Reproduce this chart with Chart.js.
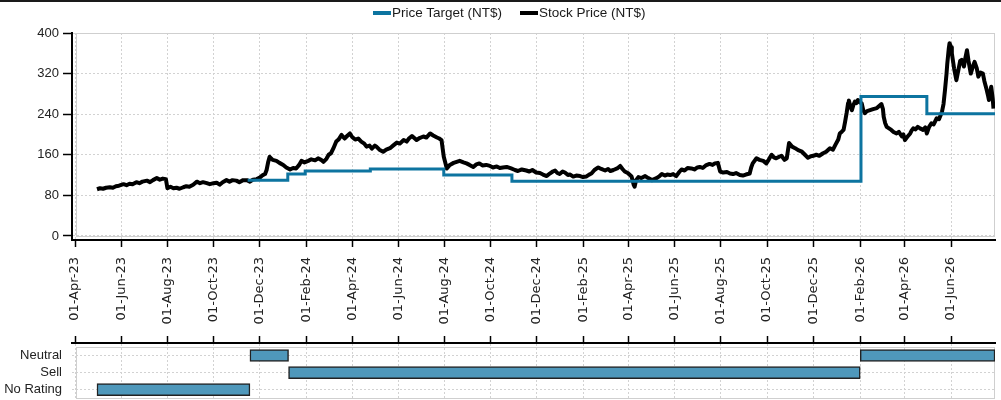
<!DOCTYPE html>
<html>
<head>
<meta charset="utf-8">
<script src="https://cdn.jsdelivr.net/npm/chart.js@4.4.1/dist/chart.umd.min.js"></script>
<style>
html,body{margin:0;padding:0;background:#fff;}
#wrap{position:relative;width:1001px;height:400px;overflow:hidden;background:#fff;}
#topline{position:absolute;left:0;top:0;width:1001px;height:2px;background:#1a1a1a;z-index:3;}
#legend{position:absolute;left:373px;top:5px;font-family:"Liberation Sans",Arial,sans-serif;font-size:13.5px;line-height:15px;color:#1a1a1a;display:flex;white-space:nowrap;z-index:3;}
#legend .item{display:inline-flex;align-items:center;margin-right:18px;}
#legend .sw{display:inline-block;width:18px;height:4px;margin-right:1px;}
#c1{position:absolute;left:0;top:0;}
#c2{position:absolute;left:0;top:335px;}
</style>
</head>
<body>
<div id="wrap">
  <div id="topline"></div>
  <div id="legend">
    <span class="item"><span class="sw" style="background:#0d74a0"></span>Price Target (NT$)</span>
    <span class="item"><span class="sw" style="background:#000"></span>Stock Price (NT$)</span>
  </div>
  <canvas id="c1" width="1001" height="335"></canvas>
  <canvas id="c2" width="1001" height="65"></canvas>
</div>
<script>
// ---------- DATA ----------
const tickDates = ['2023-04-01','2023-06-01','2023-08-01','2023-10-01','2023-12-01',
  '2024-02-01','2024-04-01','2024-06-01','2024-08-01','2024-10-01','2024-12-01',
  '2025-02-01','2025-04-01','2025-06-01','2025-08-01','2025-10-01','2025-12-01',
  '2026-02-01','2026-04-01','2026-06-01'];
const yTicks = [0, 80, 160, 240, 320, 400];

const stockDates = [
 '2023-04-30','2023-05-04','2023-05-08','2023-05-12','2023-05-17','2023-05-21','2023-05-25','2023-05-29','2023-06-04','2023-06-08',
 '2023-06-12','2023-06-16','2023-06-21','2023-06-25','2023-06-29','2023-07-05','2023-07-09','2023-07-13','2023-07-18','2023-07-22',
 '2023-07-26','2023-07-30','2023-08-01','2023-08-05','2023-08-09','2023-08-13','2023-08-17','2023-08-22','2023-08-26','2023-08-30',
 '2023-09-04','2023-09-09','2023-09-13','2023-09-17','2023-09-22','2023-09-26','2023-10-01','2023-10-05','2023-10-09','2023-10-13',
 '2023-10-18','2023-10-22','2023-10-26','2023-10-31','2023-11-04','2023-11-09','2023-11-14','2023-11-18','2023-11-22','2023-11-27',
 '2023-12-01','2023-12-05','2023-12-08','2023-12-10','2023-12-12','2023-12-14','2023-12-18','2023-12-23','2023-12-27','2024-01-01',
 '2024-01-05','2024-01-10','2024-01-14','2024-01-18','2024-01-22','2024-01-25','2024-01-29','2024-02-03','2024-02-07','2024-02-12',
 '2024-02-16','2024-02-20','2024-02-23','2024-02-27','2024-03-01','2024-03-04','2024-03-07','2024-03-11','2024-03-14','2024-03-18',
 '2024-03-22','2024-03-26','2024-03-29','2024-04-01','2024-04-05','2024-04-09','2024-04-13','2024-04-17','2024-04-20','2024-04-24',
 '2024-04-27','2024-05-01','2024-05-03','2024-05-07','2024-05-12','2024-05-16','2024-05-21','2024-05-25','2024-05-30','2024-06-03',
 '2024-06-08','2024-06-12','2024-06-15','2024-06-19','2024-06-22','2024-06-25','2024-06-29','2024-07-04','2024-07-08','2024-07-13',
 '2024-07-17','2024-07-22','2024-07-25','2024-07-28','2024-07-31','2024-08-04','2024-08-08','2024-08-13','2024-08-17','2024-08-21',
 '2024-08-26','2024-08-30','2024-09-03','2024-09-08','2024-09-12','2024-09-16','2024-09-20','2024-09-25','2024-09-30','2024-10-04',
 '2024-10-09','2024-10-13','2024-10-17','2024-10-22','2024-10-28','2024-11-02','2024-11-06','2024-11-11','2024-11-17','2024-11-21',
 '2024-11-25','2024-11-30','2024-12-05','2024-12-09','2024-12-14','2024-12-18','2024-12-22','2024-12-25','2024-12-28','2024-12-31',
 '2025-01-04','2025-01-07','2025-01-11','2025-01-14','2025-01-18','2025-01-22','2025-01-27','2025-01-31','2025-02-04','2025-02-08',
 '2025-02-11','2025-02-15','2025-02-20','2025-02-24','2025-03-01','2025-03-05','2025-03-08','2025-03-12','2025-03-17','2025-03-21',
 '2025-03-24','2025-03-27','2025-03-31','2025-04-05','2025-04-08','2025-04-09','2025-04-11','2025-04-14','2025-04-18','2025-04-23',
 '2025-04-27','2025-05-02','2025-05-05','2025-05-08','2025-05-12','2025-05-15','2025-05-19','2025-05-22','2025-05-26','2025-05-30',
 '2025-06-03','2025-06-07','2025-06-10','2025-06-14','2025-06-18','2025-06-23','2025-06-27','2025-07-01','2025-07-04','2025-07-08',
 '2025-07-12','2025-07-17','2025-07-21','2025-07-24','2025-07-28','2025-07-31','2025-08-04','2025-08-09','2025-08-13','2025-08-17',
 '2025-08-21','2025-08-26','2025-08-30','2025-09-03','2025-09-08','2025-09-10','2025-09-12','2025-09-17','2025-09-21','2025-09-26',
 '2025-09-30','2025-10-03','2025-10-07','2025-10-10','2025-10-13','2025-10-17','2025-10-20','2025-10-24','2025-10-27','2025-10-30',
 '2025-11-03','2025-11-07','2025-11-11','2025-11-16','2025-11-20','2025-11-24','2025-11-28','2025-12-01','2025-12-05','2025-12-09',
 '2025-12-14','2025-12-18','2025-12-23','2025-12-27','2025-12-30','2026-01-03','2026-01-05','2026-01-08','2026-01-10','2026-01-12',
 '2026-01-14','2026-01-16','2026-01-17','2026-01-19','2026-01-21','2026-01-23','2026-01-25','2026-01-27','2026-01-29','2026-01-31',
 '2026-02-03','2026-02-05','2026-02-07','2026-02-10','2026-02-14','2026-02-18','2026-02-23','2026-02-26','2026-03-01','2026-03-03',
 '2026-03-04','2026-03-06','2026-03-08','2026-03-11','2026-03-14','2026-03-17','2026-03-21','2026-03-24','2026-03-28','2026-03-30',
 '2026-04-01','2026-04-04','2026-04-08','2026-04-10','2026-04-12','2026-04-15','2026-04-18','2026-04-21','2026-04-25','2026-04-28',
 '2026-04-30','2026-05-03','2026-05-06','2026-05-09','2026-05-13','2026-05-16','2026-05-20','2026-05-22','2026-05-24','2026-05-26',
 '2026-05-27','2026-05-29','2026-05-30','2026-06-01','2026-06-02','2026-06-05','2026-06-08','2026-06-11','2026-06-13','2026-06-15',
 '2026-06-18','2026-06-20','2026-06-22','2026-06-24','2026-06-27','2026-06-30','2026-07-02','2026-07-05','2026-07-07','2026-07-10',
 '2026-07-13','2026-07-15','2026-07-18','2026-07-20','2026-07-21','2026-07-23','2026-07-24','2026-07-26','2026-07-27'];
const stockPrices = [
  92, 94, 93, 95, 96, 95, 98, 99,102,100,
 103,102,106,104,107,109,106,110,114,111,
 113,112, 94, 97, 94, 95, 93, 96, 98, 97,
 101,107,104,106,104,102,104,105,101,106,
 110,107,110,109,106,110,110,107,111,112,
 115,120,122,130,145,156,150,148,144,140,
 135,131,134,133,140,148,145,148,151,149,
 153,150,146,152,160,163,172,186,190,199,
 192,198,202,195,190,192,186,182,176,178,
 172,178,176,170,166,170,173,178,184,182,
 189,186,192,197,193,189,193,196,194,202,
 198,194,192,189,156,133,140,144,146,148,
 145,143,140,136,141,143,139,140,138,135,
 137,134,135,136,133,130,128,131,129,127,
 130,125,124,121,118,123,127,129,124,122,
 127,125,120,121,117,119,118,116,117,121,
 123,130,135,132,129,132,128,130,133,138,
 132,127,124,117,100, 97,110,116,114,118,
 114,110,112,114,118,122,119,121,120,122,
 118,126,131,129,134,133,131,135,136,134,
 139,142,140,143,144,127,125,126,123,122,
 124,120,119,121,123,135,143,153,150,148,
 143,150,160,155,153,156,158,150,153,183,
 176,173,169,166,160,154,157,158,160,158,
 163,166,173,170,179,190,202,206,209,225,
 242,262,267,255,248,258,265,262,268,264,
 261,248,242,246,248,250,252,256,260,250,
 235,222,215,212,209,205,202,205,196,200,
 189,195,202,208,212,210,215,212,209,214,
 202,215,222,220,232,230,245,260,288,320,
 340,370,380,372,360,330,307,330,345,347,
 334,352,366,345,320,335,343,330,314,322,
 320,305,288,275,268,285,294,270,251];

const targetDates  = ['2023-11-15','2024-01-07','2024-01-30','2024-04-25','2024-07-31','2024-10-29','2026-02-02','2026-04-30','2026-07-29'];
const targetValues = [110, 122, 128, 132, 120, 108, 275, 241, 241];

const ratingLevels = ['No Rating', 'Sell', 'Neutral'];
const ratingNames  = ['No Rating', 'Neutral', 'Sell', 'Neutral'];
const ratingStarts = ['2023-04-30', '2023-11-18', '2024-01-08', '2026-02-01'];
const ratingEnds   = ['2023-11-18', '2024-01-08', '2026-02-01', '2026-07-29'];

// ---------- HELPERS ----------
const toMs = s => { const [y, m, d] = s.split('-').map(Number); return Date.UTC(y, m - 1, d); };
const MON = ['Jan','Feb','Mar','Apr','May','Jun','Jul','Aug','Sep','Oct','Nov','Dec'];
const fmtDate = ms => { const d = new Date(ms); return String(d.getUTCDate()).padStart(2,'0') + '-' + MON[d.getUTCMonth()] + '-' + String(d.getUTCFullYear()).slice(2); };
const xMin = toMs('2023-03-28'), xMax = toMs('2026-07-29');
const GRID = '#d2d2d2';
const nStock = Math.min(stockDates.length, stockPrices.length);

function boxPlugin(rectFn) {
  return {
    id: 'plotBox',
    beforeDatasetsDraw(chart) {
      const r = rectFn(chart);
      const ctx = chart.ctx;
      ctx.save();
      ctx.strokeStyle = '#cfcfcf';
      ctx.lineWidth = 1;
      ctx.setLineDash([]);
      ctx.strokeRect(Math.round(r.l) + 0.5, Math.round(r.t) + 0.5, Math.round(r.r - r.l) - 1, Math.round(r.b - r.t));
      ctx.restore();
    }
  };
}

Chart.defaults.font.family = '"Liberation Sans", Arial, sans-serif';
Chart.defaults.color = '#222';

// ---------- TOP CHART ----------
new Chart(document.getElementById('c1'), {
  type: 'line',
  data: {
    datasets: [
      {
        label: 'Price Target (NT$)',
        data: targetDates.map((d, i) => ({ x: toMs(d), y: targetValues[i] })),
        borderColor: '#0d74a0', borderWidth: 3, stepped: true,
        pointRadius: 0, fill: false
      },
      {
        label: 'Stock Price (NT$)',
        data: stockDates.slice(0, nStock).map((d, i) => ({ x: toMs(d), y: stockPrices[i] })),
        borderColor: '#000', borderWidth: 4, tension: 0,
        borderJoinStyle: 'round', pointRadius: 0, fill: false
      }
    ]
  },
  options: {
    responsive: false, animation: false, devicePixelRatio: 1,
    layout: { padding: { top: 33, right: 6, left: 0, bottom: 0 } },
    plugins: { legend: { display: false }, tooltip: { enabled: false } },
    scales: {
      x: {
        type: 'linear', min: xMin, max: xMax,
        afterBuildTicks: s => { s.ticks = tickDates.map(d => ({ value: toMs(d) })); },
        afterFit: s => { s.height = 95; },
        ticks: { autoSkip: false, minRotation: 90, maxRotation: 90, padding: 10,
          font: { family: '"DejaVu Sans", sans-serif', size: 13 }, color: '#222',
          callback: v => fmtDate(v) },
        grid: { color: GRID, lineWidth: 1, tickLength: 7, tickColor: '#000', tickWidth: 1.5, tickBorderDash: [] },
        border: { display: true, color: '#000', width: 2, dash: [2, 2] }
      },
      y: {
        type: 'linear', min: -8, max: 400,
        afterBuildTicks: s => { s.ticks = yTicks.map(v => ({ value: v })); },
        afterFit: s => { s.width = 72; },
        ticks: { padding: 4, font: { size: 13 }, color: '#222' },
        grid: { color: GRID, lineWidth: 1, tickLength: 9, tickColor: '#000', tickWidth: 1.5, tickBorderDash: [] },
        border: { display: true, color: '#000', width: 2, dash: [2, 2] }
      }
    }
  },
  plugins: [boxPlugin(c => ({ l: c.chartArea.left + 4, t: c.chartArea.top, r: c.chartArea.right, b: c.scales.y.getPixelForValue(0) }))]
});

// ---------- BOTTOM CHART (rating history) ----------
new Chart(document.getElementById('c2'), {
  type: 'bar',
  data: {
    datasets: [{
      label: 'Rating',
      data: ratingNames.map((n, i) => ({ x: [toMs(ratingStarts[i]), toMs(ratingEnds[i])], y: ratingLevels.indexOf(n) })),
      backgroundColor: '#4f98bb', borderColor: '#222', borderWidth: 1.5, borderSkipped: false,
      barThickness: 12
    }]
  },
  options: {
    indexAxis: 'y',
    responsive: false, animation: false, devicePixelRatio: 1,
    layout: { padding: { top: 0, right: 6, left: 0, bottom: 2 } },
    plugins: { legend: { display: false }, tooltip: { enabled: false } },
    scales: {
      x: {
        type: 'linear', position: 'top', min: xMin, max: xMax, beginAtZero: false,
        afterBuildTicks: s => { s.ticks = tickDates.map(d => ({ value: toMs(d) })); },
        afterFit: s => { s.height = 8; s.paddingLeft = 0; s.paddingRight = 0; },
        ticks: { display: false },
        grid: { color: GRID, lineWidth: 1, tickLength: 7, tickColor: '#000', tickWidth: 1.5, tickBorderDash: [] },
        border: { display: true, color: '#000', width: 2, dash: [2, 2] }
      },
      y: {
        type: 'linear', min: -0.49, max: 2.73, offset: false,
        afterBuildTicks: s => { s.ticks = ratingLevels.map((_, i) => ({ value: i })); },
        afterFit: s => { s.width = 72; s.paddingTop = 0; s.paddingBottom = 0; },
        ticks: { padding: 10, font: { size: 13 }, color: '#222', callback: v => ratingLevels[v] },
        grid: { color: GRID, lineWidth: 1, drawTicks: false, offset: false },
        border: { display: false, dash: [2, 2] }
      }
    }
  },
  plugins: [boxPlugin(c => ({ l: c.chartArea.left + 4, t: c.chartArea.top + 4, r: c.chartArea.right, b: c.chartArea.bottom }))]
});
</script>
</body>
</html>
